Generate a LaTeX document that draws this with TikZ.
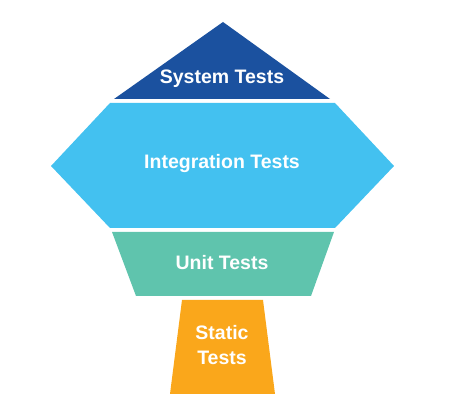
\documentclass[tikz,border=0pt]{standalone}
\usepackage{fontspec}
\setsansfont{Liberation Sans}
\usepackage{tikz}
\usetikzlibrary{positioning}
\definecolor{SysBlue}{HTML}{1B519F}
\definecolor{IntBlue}{HTML}{43C1F0}
\definecolor{UnitTeal}{HTML}{5FC4AD}
\definecolor{StatOrange}{HTML}{FAA71B}

\begin{document}
\begin{tikzpicture}[x=1pt,y=-1pt,font=\sffamily\bfseries\fontsize{19.5}{25}\selectfont,
  lbl/.style={text=white,align=center,inner sep=0pt}]
  \useasboundingbox (0,0) rectangle (451,411);
  \fill[SysBlue] (114,99) -- (223,22) -- (330,99) -- cycle;
  \fill[IntBlue] (110,103) -- (335,103) -- (394,166) -- (335,228) -- (110,228) -- (51,166) -- cycle;
  \fill[UnitTeal] (112,232) -- (334,232) -- (311,296) -- (136,296) -- cycle;
  \fill[StatOrange] (182,300) -- (263,300) -- (275,394) -- (170,394) -- cycle;
  \node[lbl] (sys) at (222,79) {System Tests};
  \node[lbl] (int) at (222,164) {Integration Tests};
  \node[lbl] (unit) at (222,263) {Unit Tests};
  \node[lbl] (stat) at (222,345) {Static\\Tests};
\end{tikzpicture}
\end{document}
